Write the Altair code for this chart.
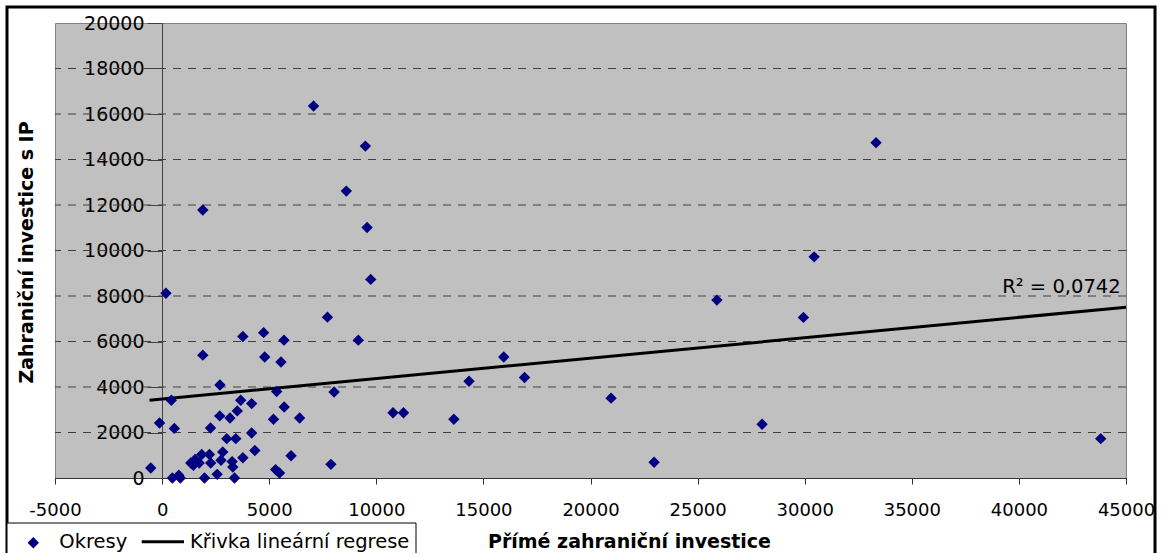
import altair as alt
import pandas as pd

# Scatter data (Přímé zahraniční investice, Zahraniční investice s IP)
pzi = [-530, -120, 180, 430, 570, 480, 780, 850, 1900, 1900,
       1340, 1460, 1540, 1730, 1850, 2210, 2270,
       1980, 2260, 2570, 2700, 2690, 2830, 2750, 3020, 3170, 3270, 3300,
       3380, 3440, 3510, 3670, 3770, 3770, 4180, 4180, 4330, 4740, 4790,
       5200, 5300, 5480, 5350, 5550, 5690, 5700, 6020, 6420, 7070, 7720,
       7880, 8030, 8600, 9160, 9490, 9570, 9740, 10780, 11270, 13620,
       14330, 15950, 16920, 20960, 22970, 25900, 28010, 29940, 30440,
       33330, 43820]
zip_ = [440, 2420, 8120, 3420, 2180, 0, 120, 0, 5400, 11780,
        660, 560, 810, 660, 1030, 1030, 660,
        0, 2200, 160, 4090, 2730, 1140, 780, 1730, 2640, 720, 480,
        0, 1730, 2950, 3420, 6220, 890, 3270, 1980, 1210, 6390, 5320,
        2580, 370, 220, 3800, 5100, 6060, 3120, 980, 2640, 16350, 7070,
        600, 3780, 12610, 6060, 14590, 11010, 8730, 2870, 2870, 2580,
        4250, 5320, 4420, 3510, 690, 7820, 2360, 7060, 9720,
        14740, 1730]

# Linear trend line (Křivka lineární regrese), end points
trend_x = [-590, 45000]
trend_y = [3420, 7510]

x_ticks = list(range(-5000, 45001, 5000))
y_ticks = list(range(0, 20001, 2000))
grid_vals = list(range(2000, 18001, 2000))
r2_label = "R² = 0,0742"
legend_labels = ["Okresy", "Křivka lineární regrese"]
x_title = "Přímé zahraniční investice"
y_title = "Zahraniční investice s IP"

df = pd.DataFrame({"x": pzi, "y": zip_})
df_trend = pd.DataFrame({"x": trend_x, "y": trend_y})
FONT = "DejaVu Sans"

xs = alt.Scale(domain=[-5000, 45000], nice=False, zero=False)
ys = alt.Scale(domain=[0, 20000], nice=False, zero=False)

xaxis = alt.Axis(values=x_ticks, labelExpr="'' + datum.value", labelFont=FONT,
                 labelFontSize=18, labelColor="black", labelPadding=17,
                 labelFlush=False, labelOverlap=False,
                 tickSize=6, tickColor="#333333", domainColor="#333333",
                 grid=False, title=x_title, titleFont=FONT, titleFontSize=19,
                 titleFontWeight="bold", titleColor="black", titleX=574, titleY=69,
                 titleBaseline="alphabetic", titleAlign="center")
yaxis = alt.Axis(values=y_ticks, labelExpr="'' + datum.value", labelFont=FONT,
                 labelFontSize=19, labelColor="black", labelPadding=3,
                 labelFlush=False, labelOverlap=False,
                 offset=-107, tickSize=15, tickColor="#404040", domainColor="#404040",
                 grid=False, title=y_title, titleFont=FONT, titleFontSize=19,
                 titleFontWeight="bold", titleColor="black", titleX=-130, titleY=229,
                 titleBaseline="alphabetic", titleAlign="center", titleAngle=270)

X = alt.X("x:Q", scale=xs, axis=xaxis)
Y = alt.Y("y:Q", scale=ys, axis=yaxis)

one = alt.Data(values=[{"a": 1}])

frame = alt.Chart(one).mark_rect(fillOpacity=0, stroke="black", strokeWidth=3).encode(
    x=alt.value(-48), x2=alt.value(1100), y=alt.value(-16), y2=alt.value(545))

grid = alt.Chart(pd.DataFrame({"y": grid_vals})).mark_rule(
    color="#404040", strokeWidth=1, strokeDash=[8, 7]).encode(y=Y)

reg = alt.Chart(df_trend).mark_line(color="black", strokeWidth=3).encode(x=X, y=Y)

pts = alt.Chart(df).mark_point(shape="diamond", filled=True, size=130,
                               color="#000080", opacity=1).encode(x=X, y=Y)

r2 = alt.Chart(pd.DataFrame({"x": [44750], "y": [8110], "t": [r2_label]})).mark_text(
    align="right", baseline="alphabetic", font=FONT, fontSize=19.5, color="black").encode(
    x=X, y=Y, text="t:N")

leg_box = alt.Chart(one).mark_rect(fill="white", stroke="black", strokeWidth=1).encode(
    x=alt.value(-48), x2=alt.value(361), y=alt.value(500), y2=alt.value(545))
leg_pt = alt.Chart(one).mark_point(shape="diamond", filled=True, size=130,
                                   color="#000080", opacity=1).encode(
    x=alt.value(-21.7), y=alt.value(519.7))
leg_line = alt.Chart(one).mark_rule(color="black", strokeWidth=3).encode(
    x=alt.value(86.7), x2=alt.value(129), y=alt.value(518.7))
leg_t1 = alt.Chart(one).mark_text(align="left", baseline="alphabetic", font=FONT,
                                  fontSize=19.5, color="black", text=legend_labels[0]).encode(
    x=alt.value(4.3), y=alt.value(525.3))
leg_t2 = alt.Chart(one).mark_text(align="left", baseline="alphabetic", font=FONT,
                                  fontSize=19.5, color="black", text=legend_labels[1]).encode(
    x=alt.value(135), y=alt.value(525.3))

chart = alt.layer(frame, grid, reg, pts, r2, leg_box, leg_pt, leg_line, leg_t1, leg_t2).properties(
    width=1071, height=455,
    autosize=alt.AutoSizeParams(type="none"),
    padding={"left": 55, "top": 23, "right": 36, "bottom": 75},
    background="white",
).configure_view(fill="#C0C0C0", stroke="#808080", strokeWidth=1)

chart.save("out.html", embed_options={"renderer": "svg", "actions": False})
